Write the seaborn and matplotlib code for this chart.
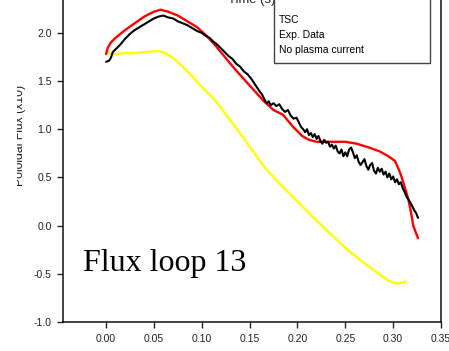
import numpy as np
import pandas as pd
import matplotlib
matplotlib.use("Agg")
import matplotlib.pyplot as plt
import seaborn as sns
from matplotlib.patches import Rectangle

# ---- data ----
tsc_t = [0.000, 0.002, 0.005, 0.010, 0.015, 0.020, 0.030, 0.040, 0.050, 0.057,
         0.065, 0.075, 0.085, 0.095, 0.105, 0.115, 0.125, 0.135, 0.145, 0.155,
         0.165, 0.175, 0.185, 0.195, 0.205, 0.212, 0.220, 0.235, 0.250, 0.262,
         0.275, 0.286, 0.295, 0.302, 0.306, 0.309, 0.313, 0.316, 0.319, 0.321,
         0.324, 0.326]
tsc_v = [1.78, 1.85, 1.90, 1.95, 1.99, 2.03, 2.10, 2.17, 2.22, 2.24,
         2.22, 2.18, 2.12, 2.06, 1.97, 1.86, 1.74, 1.62, 1.51, 1.40,
         1.29, 1.20, 1.15, 1.03, 0.93, 0.89, 0.87, 0.87, 0.87, 0.85,
         0.81, 0.77, 0.72, 0.67, 0.58, 0.50, 0.37, 0.27, 0.12, 0.00,
         -0.08, -0.13]

exp_t = [0.000, 0.003, 0.005, 0.007, 0.010, 0.015, 0.020, 0.025, 0.030, 0.035,
         0.040, 0.045, 0.050, 0.055, 0.060, 0.065, 0.070, 0.075, 0.080, 0.085,
         0.090, 0.095, 0.100, 0.104, 0.108, 0.112, 0.116, 0.120, 0.124, 0.128,
         0.132, 0.136, 0.140, 0.144, 0.148, 0.152, 0.156, 0.160, 0.163, 0.166,
         0.168, 0.170, 0.172, 0.175, 0.178, 0.181, 0.184, 0.187, 0.190, 0.193,
         0.196, 0.199, 0.202, 0.204, 0.206, 0.208, 0.210, 0.212, 0.214, 0.216,
         0.218, 0.220, 0.222, 0.224, 0.226, 0.228, 0.230, 0.232, 0.234, 0.236,
         0.238, 0.240, 0.242, 0.244, 0.246, 0.248, 0.250, 0.252, 0.254, 0.256,
         0.258, 0.260, 0.262, 0.264, 0.266, 0.268, 0.270, 0.272, 0.274, 0.276,
         0.278, 0.280, 0.282, 0.284, 0.286, 0.288, 0.290, 0.292, 0.294, 0.296,
         0.298, 0.300, 0.302, 0.304, 0.306, 0.308, 0.310, 0.312, 0.314, 0.316,
         0.318, 0.320, 0.322, 0.324, 0.326]
exp_v = [1.70, 1.71, 1.74, 1.80, 1.83, 1.88, 1.94, 1.99, 2.03, 2.06,
         2.09, 2.12, 2.15, 2.17, 2.18, 2.16, 2.15, 2.12, 2.10, 2.08,
         2.05, 2.02, 2.00, 1.97, 1.95, 1.91, 1.88, 1.84, 1.80, 1.76,
         1.73, 1.68, 1.65, 1.60, 1.57, 1.52, 1.46, 1.40, 1.36, 1.30,
         1.27, 1.29, 1.25, 1.27, 1.24, 1.26, 1.21, 1.18, 1.20, 1.14,
         1.11, 1.12, 1.06, 1.02, 1.00, 0.97, 1.00, 0.94, 0.96, 0.92,
         0.95, 0.90, 0.93, 0.88, 0.85, 0.89, 0.86, 0.87, 0.82, 0.84,
         0.80, 0.83, 0.77, 0.75, 0.79, 0.72, 0.76, 0.72, 0.79, 0.81,
         0.76, 0.70, 0.73, 0.66, 0.63, 0.66, 0.69, 0.62, 0.58, 0.63,
         0.65, 0.57, 0.54, 0.60, 0.56, 0.59, 0.53, 0.56, 0.50, 0.54,
         0.48, 0.51, 0.45, 0.48, 0.43, 0.45, 0.39, 0.35, 0.30, 0.27,
         0.24, 0.20, 0.16, 0.13, 0.08]

nop_t = [0.000, 0.005, 0.010, 0.020, 0.030, 0.040, 0.050, 0.056, 0.062, 0.070,
         0.080, 0.090, 0.100, 0.114, 0.127, 0.140, 0.153, 0.166, 0.180, 0.197,
         0.215, 0.233, 0.252, 0.270, 0.285, 0.295, 0.300, 0.305, 0.310, 0.313]
nop_v = [1.80, 1.78, 1.78, 1.79, 1.79, 1.80, 1.81, 1.81, 1.79, 1.74,
         1.65, 1.55, 1.44, 1.30, 1.13, 0.96, 0.78, 0.60, 0.45, 0.28,
         0.10, -0.07, -0.25, -0.39, -0.50, -0.57, -0.59, -0.60, -0.59, -0.58]

series_names = ["TSC", "Exp. Data", "No plasma current"]
series_colors = ["#ff0000", "#000000", "#ffff00"]
x_ticks = [0.00, 0.05, 0.10, 0.15, 0.20, 0.25, 0.30, 0.35]
y_ticks = [-1.0, -0.5, 0.0, 0.5, 1.0, 1.5, 2.0]

# ---- figure ----
sns.set_style("ticks")
plt.rcParams["font.family"] = ["Liberation Sans", "DejaVu Sans"]

W, H = 449, 351
fig = plt.figure(figsize=(W / 100, H / 100), dpi=100)
x0, x1 = 63, 441
ybot = 322
ylo, yhi = -1.0, 2.4
ppu = 96.37
ytop = ybot - (yhi - ylo) * ppu
ax = fig.add_axes([x0 / W, (H - ybot) / H, (x1 - x0) / W, (ybot - ytop) / H])

df = pd.concat([
    pd.DataFrame({"t": tsc_t, "v": tsc_v, "s": series_names[0]}),
    pd.DataFrame({"t": exp_t, "v": exp_v, "s": series_names[1]}),
    pd.DataFrame({"t": nop_t, "v": nop_v, "s": series_names[2]}),
])
for name, col, lw, z in zip(series_names, series_colors, [1.7, 1.5, 1.7], [3, 4, 2]):
    sub = df[df["s"] == name]
    sns.lineplot(data=sub, x="t", y="v", ax=ax, color=col, linewidth=lw,
                 sort=False, estimator=None, legend=False, zorder=z)

ax.set_xlim(-0.045, 0.35)
ax.set_ylim(ylo, yhi)
ax.set_xticks(x_ticks)
ax.set_xticklabels([f"{v:.2f}" for v in x_ticks])
ax.set_yticks(y_ticks)
ax.set_yticklabels([f"{v:.1f}" for v in y_ticks])
ax.set_xlabel("")
ax.set_ylabel("")
ax.tick_params(axis="both", labelsize=7.5, colors="#222222", length=4,
               width=1.0, direction="out")
ax.tick_params(axis="x", pad=5)
ax.tick_params(axis="y", pad=4)
for sp in ["left", "bottom", "right"]:
    ax.spines[sp].set_visible(True)
    ax.spines[sp].set_color("#111111")
    ax.spines[sp].set_linewidth(1.1)
ax.spines["top"].set_visible(False)

# annotation text
ax.text((83 - x0) / (x1 - x0), (ybot - 271) / (ybot - ytop), "Flux loop 13",
        transform=ax.transAxes, fontsize=23, family="Liberation Serif",
        ha="left", va="baseline", color="black")

# legend box (top clipped as in reference)
lx0, lx1, lyb = 274, 430, 63
fig.patches.append(Rectangle((lx0 / W, (H - lyb) / H), (lx1 - lx0) / W, 0.3,
                             transform=fig.transFigure, facecolor="white",
                             edgecolor="#444444", linewidth=1.0, zorder=5))
for i, name in enumerate(series_names):
    fig.text(279 / W, (H - (23 + 15 * i)) / H, name, fontsize=7.5,
             ha="left", va="baseline", color="black", zorder=6)

# clipped labels at the edges
fig.text(252 / W, 1 - 6 / H, "Time (s)", fontsize=9.4, ha="center",
         va="bottom", color="#222222")
fig.text(26.5 / W, (H - 135) / H, "Poloidal Flux (x10)", fontsize=8.7,
         rotation=90, ha="right", va="center", color="#222222")
fig.patches.append(Rectangle((0, 0), 17 / W, 1, transform=fig.transFigure,
                             facecolor="white", edgecolor="none", zorder=7))

fig.savefig("out.png", dpi=100)
